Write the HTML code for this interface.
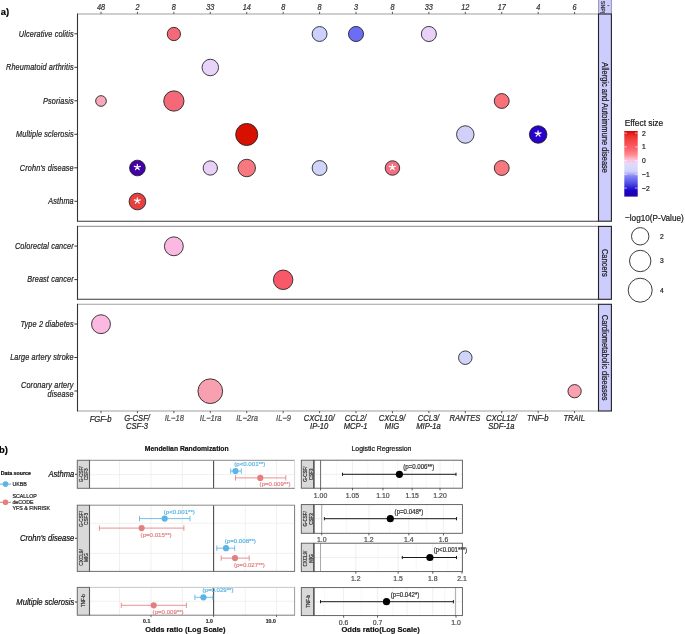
<!DOCTYPE html>
<html><head><meta charset="utf-8"><style>
html,body{margin:0;padding:0;background:#fff;width:685px;height:634px;overflow:hidden;font-family:"Liberation Sans",sans-serif}
svg{display:block}
svg{opacity:0.999;will-change:transform}
</style></head><body>
<svg width="685" height="634" viewBox="0 0 685 634">
<rect width="685" height="634" fill="#fff"/>
<line x1="77.5" y1="14" x2="598.5" y2="14" stroke="#a0a0a0" stroke-width="1.1"/>
<line x1="77.5" y1="221.2" x2="598.5" y2="221.2" stroke="#3a3a3a" stroke-width="1.1"/>
<line x1="77.5" y1="13.5" x2="77.5" y2="221.7" stroke="#333" stroke-width="1.1"/>
<line x1="77.5" y1="226.4" x2="598.5" y2="226.4" stroke="#a0a0a0" stroke-width="1.1"/>
<line x1="77.5" y1="299.3" x2="598.5" y2="299.3" stroke="#3a3a3a" stroke-width="1.1"/>
<line x1="77.5" y1="225.9" x2="77.5" y2="299.8" stroke="#333" stroke-width="1.1"/>
<line x1="77.5" y1="304.3" x2="598.5" y2="304.3" stroke="#a0a0a0" stroke-width="1.1"/>
<line x1="77.5" y1="411" x2="598.5" y2="411" stroke="#a0a0a0" stroke-width="1.1"/>
<line x1="77.5" y1="303.8" x2="77.5" y2="411.5" stroke="#333" stroke-width="1.1"/>
<rect x="598.5" y="-2" width="13" height="16" fill="#ccccff" stroke="none" stroke-width="0"/>
<line x1="598.6" y1="0" x2="598.6" y2="14" stroke="#8a8ab0" stroke-width="0.9"/>
<line x1="611.4" y1="0" x2="611.4" y2="14" stroke="#8a8ab0" stroke-width="0.9"/>
<rect x="598.5" y="14" width="12.9" height="207.2" fill="#ccccff" stroke="#222" stroke-width="1.1"/>
<text x="0" y="0" font-size="7.5" text-anchor="middle" font-style="normal" font-weight="normal" fill="#1a1a1a" font-family="Liberation Sans" transform="translate(602.40 117.60) rotate(90) scale(1 1.17)" stroke="#1a1a1a" stroke-width="0.2">Allergic and Autoimmune disease</text>
<rect x="598.5" y="226.4" width="12.9" height="72.9" fill="#ccccff" stroke="#222" stroke-width="1.1"/>
<text x="0" y="0" font-size="7.5" text-anchor="middle" font-style="normal" font-weight="normal" fill="#1a1a1a" font-family="Liberation Sans" transform="translate(602.40 262.85) rotate(90) scale(1 1.17)" stroke="#1a1a1a" stroke-width="0.2">Cancers</text>
<rect x="598.5" y="304.3" width="12.9" height="106.69999999999999" fill="#ccccff" stroke="#222" stroke-width="1.1"/>
<text x="0" y="0" font-size="7.5" text-anchor="middle" font-style="normal" font-weight="normal" fill="#1a1a1a" font-family="Liberation Sans" transform="translate(602.40 357.65) rotate(90) scale(1 1.17)" stroke="#1a1a1a" stroke-width="0.2">Cardiometabolic diseases</text>
<text x="0" y="0" font-size="5.3" text-anchor="middle" font-style="normal" font-weight="normal" fill="#333" font-family="Liberation Sans" transform="translate(601.20 7.20) rotate(90) scale(1 1.0)" stroke="#333" stroke-width="0.2">SNP(</text>
<line x1="607.4" y1="5.6" x2="609.4" y2="5.6" stroke="#555" stroke-width="0.9"/>
<line x1="101.0" y1="14" x2="101.0" y2="11.8" stroke="#333" stroke-width="0.8"/>
<text x="0" y="0" font-size="7.3" text-anchor="middle" font-style="italic" font-weight="normal" fill="#333" font-family="Liberation Sans" transform="translate(101.00 9.90) scale(1 1.17)" stroke="#333" stroke-width="0.2">48</text>
<line x1="137.43" y1="14" x2="137.43" y2="11.8" stroke="#333" stroke-width="0.8"/>
<text x="0" y="0" font-size="7.3" text-anchor="middle" font-style="italic" font-weight="normal" fill="#333" font-family="Liberation Sans" transform="translate(137.43 9.90) scale(1 1.17)" stroke="#333" stroke-width="0.2">2</text>
<line x1="173.86" y1="14" x2="173.86" y2="11.8" stroke="#333" stroke-width="0.8"/>
<text x="0" y="0" font-size="7.3" text-anchor="middle" font-style="italic" font-weight="normal" fill="#333" font-family="Liberation Sans" transform="translate(173.86 9.90) scale(1 1.17)" stroke="#333" stroke-width="0.2">8</text>
<line x1="210.29" y1="14" x2="210.29" y2="11.8" stroke="#333" stroke-width="0.8"/>
<text x="0" y="0" font-size="7.3" text-anchor="middle" font-style="italic" font-weight="normal" fill="#333" font-family="Liberation Sans" transform="translate(210.29 9.90) scale(1 1.17)" stroke="#333" stroke-width="0.2">33</text>
<line x1="246.72" y1="14" x2="246.72" y2="11.8" stroke="#333" stroke-width="0.8"/>
<text x="0" y="0" font-size="7.3" text-anchor="middle" font-style="italic" font-weight="normal" fill="#333" font-family="Liberation Sans" transform="translate(246.72 9.90) scale(1 1.17)" stroke="#333" stroke-width="0.2">14</text>
<line x1="283.15" y1="14" x2="283.15" y2="11.8" stroke="#333" stroke-width="0.8"/>
<text x="0" y="0" font-size="7.3" text-anchor="middle" font-style="italic" font-weight="normal" fill="#333" font-family="Liberation Sans" transform="translate(283.15 9.90) scale(1 1.17)" stroke="#333" stroke-width="0.2">8</text>
<line x1="319.58" y1="14" x2="319.58" y2="11.8" stroke="#333" stroke-width="0.8"/>
<text x="0" y="0" font-size="7.3" text-anchor="middle" font-style="italic" font-weight="normal" fill="#333" font-family="Liberation Sans" transform="translate(319.58 9.90) scale(1 1.17)" stroke="#333" stroke-width="0.2">8</text>
<line x1="356.01" y1="14" x2="356.01" y2="11.8" stroke="#333" stroke-width="0.8"/>
<text x="0" y="0" font-size="7.3" text-anchor="middle" font-style="italic" font-weight="normal" fill="#333" font-family="Liberation Sans" transform="translate(356.01 9.90) scale(1 1.17)" stroke="#333" stroke-width="0.2">3</text>
<line x1="392.44" y1="14" x2="392.44" y2="11.8" stroke="#333" stroke-width="0.8"/>
<text x="0" y="0" font-size="7.3" text-anchor="middle" font-style="italic" font-weight="normal" fill="#333" font-family="Liberation Sans" transform="translate(392.44 9.90) scale(1 1.17)" stroke="#333" stroke-width="0.2">8</text>
<line x1="428.87" y1="14" x2="428.87" y2="11.8" stroke="#333" stroke-width="0.8"/>
<text x="0" y="0" font-size="7.3" text-anchor="middle" font-style="italic" font-weight="normal" fill="#333" font-family="Liberation Sans" transform="translate(428.87 9.90) scale(1 1.17)" stroke="#333" stroke-width="0.2">33</text>
<line x1="465.3" y1="14" x2="465.3" y2="11.8" stroke="#333" stroke-width="0.8"/>
<text x="0" y="0" font-size="7.3" text-anchor="middle" font-style="italic" font-weight="normal" fill="#333" font-family="Liberation Sans" transform="translate(465.30 9.90) scale(1 1.17)" stroke="#333" stroke-width="0.2">12</text>
<line x1="501.73" y1="14" x2="501.73" y2="11.8" stroke="#333" stroke-width="0.8"/>
<text x="0" y="0" font-size="7.3" text-anchor="middle" font-style="italic" font-weight="normal" fill="#333" font-family="Liberation Sans" transform="translate(501.73 9.90) scale(1 1.17)" stroke="#333" stroke-width="0.2">17</text>
<line x1="538.16" y1="14" x2="538.16" y2="11.8" stroke="#333" stroke-width="0.8"/>
<text x="0" y="0" font-size="7.3" text-anchor="middle" font-style="italic" font-weight="normal" fill="#333" font-family="Liberation Sans" transform="translate(538.16 9.90) scale(1 1.17)" stroke="#333" stroke-width="0.2">4</text>
<line x1="574.5899999999999" y1="14" x2="574.5899999999999" y2="11.8" stroke="#333" stroke-width="0.8"/>
<text x="0" y="0" font-size="7.3" text-anchor="middle" font-style="italic" font-weight="normal" fill="#333" font-family="Liberation Sans" transform="translate(574.59 9.90) scale(1 1.17)" stroke="#333" stroke-width="0.2">6</text>
<line x1="101.0" y1="411" x2="101.0" y2="413.2" stroke="#333" stroke-width="0.8"/>
<text x="0" y="0" font-size="7.6" text-anchor="middle" font-style="italic" font-weight="normal" fill="#262626" font-family="Liberation Sans" transform="translate(100.60 422.00) scale(1 1.17)" stroke="#262626" stroke-width="0.2">FGF-b</text>
<line x1="137.43" y1="411" x2="137.43" y2="413.2" stroke="#333" stroke-width="0.8"/>
<text x="0" y="0" font-size="7.6" text-anchor="middle" font-style="italic" font-weight="normal" fill="#262626" font-family="Liberation Sans" transform="translate(137.03 420.60) scale(1 1.17)" stroke="#262626" stroke-width="0.2">G-CSF/</text>
<text x="0" y="0" font-size="7.6" text-anchor="middle" font-style="italic" font-weight="normal" fill="#262626" font-family="Liberation Sans" transform="translate(137.03 429.40) scale(1 1.17)" stroke="#262626" stroke-width="0.2">CSF-3</text>
<line x1="173.86" y1="411" x2="173.86" y2="413.2" stroke="#333" stroke-width="0.8"/>
<text x="0" y="0" font-size="7.6" text-anchor="middle" font-style="italic" font-weight="normal" fill="#505050" font-family="Liberation Sans" transform="translate(174.26 420.60) scale(1 1.17)" stroke="#505050" stroke-width="0.2">IL−18</text>
<line x1="210.29" y1="411" x2="210.29" y2="413.2" stroke="#333" stroke-width="0.8"/>
<text x="0" y="0" font-size="7.6" text-anchor="middle" font-style="italic" font-weight="normal" fill="#505050" font-family="Liberation Sans" transform="translate(210.69 420.60) scale(1 1.17)" stroke="#505050" stroke-width="0.2">IL−1ra</text>
<line x1="246.72" y1="411" x2="246.72" y2="413.2" stroke="#333" stroke-width="0.8"/>
<text x="0" y="0" font-size="7.6" text-anchor="middle" font-style="italic" font-weight="normal" fill="#505050" font-family="Liberation Sans" transform="translate(247.12 420.60) scale(1 1.17)" stroke="#505050" stroke-width="0.2">IL−2ra</text>
<line x1="283.15" y1="411" x2="283.15" y2="413.2" stroke="#333" stroke-width="0.8"/>
<text x="0" y="0" font-size="7.6" text-anchor="middle" font-style="italic" font-weight="normal" fill="#505050" font-family="Liberation Sans" transform="translate(283.55 420.60) scale(1 1.17)" stroke="#505050" stroke-width="0.2">IL−9</text>
<line x1="319.58" y1="411" x2="319.58" y2="413.2" stroke="#333" stroke-width="0.8"/>
<text x="0" y="0" font-size="7.6" text-anchor="middle" font-style="italic" font-weight="normal" fill="#262626" font-family="Liberation Sans" transform="translate(319.18 420.60) scale(1 1.17)" stroke="#262626" stroke-width="0.2">CXCL10/</text>
<text x="0" y="0" font-size="7.6" text-anchor="middle" font-style="italic" font-weight="normal" fill="#262626" font-family="Liberation Sans" transform="translate(319.18 429.40) scale(1 1.17)" stroke="#262626" stroke-width="0.2">IP-10</text>
<line x1="356.01" y1="411" x2="356.01" y2="413.2" stroke="#333" stroke-width="0.8"/>
<text x="0" y="0" font-size="7.6" text-anchor="middle" font-style="italic" font-weight="normal" fill="#262626" font-family="Liberation Sans" transform="translate(355.61 420.60) scale(1 1.17)" stroke="#262626" stroke-width="0.2">CCL2/</text>
<text x="0" y="0" font-size="7.6" text-anchor="middle" font-style="italic" font-weight="normal" fill="#262626" font-family="Liberation Sans" transform="translate(355.61 429.40) scale(1 1.17)" stroke="#262626" stroke-width="0.2">MCP-1</text>
<line x1="392.44" y1="411" x2="392.44" y2="413.2" stroke="#333" stroke-width="0.8"/>
<text x="0" y="0" font-size="7.6" text-anchor="middle" font-style="italic" font-weight="normal" fill="#262626" font-family="Liberation Sans" transform="translate(392.04 420.60) scale(1 1.17)" stroke="#262626" stroke-width="0.2">CXCL9/</text>
<text x="0" y="0" font-size="7.6" text-anchor="middle" font-style="italic" font-weight="normal" fill="#262626" font-family="Liberation Sans" transform="translate(392.04 429.40) scale(1 1.17)" stroke="#262626" stroke-width="0.2">MIG</text>
<line x1="428.87" y1="411" x2="428.87" y2="413.2" stroke="#333" stroke-width="0.8"/>
<text x="0" y="0" font-size="7.6" text-anchor="middle" font-style="italic" font-weight="normal" fill="#262626" font-family="Liberation Sans" transform="translate(428.47 420.60) scale(1 1.17)" stroke="#262626" stroke-width="0.2">CCL3/</text>
<text x="0" y="0" font-size="7.6" text-anchor="middle" font-style="italic" font-weight="normal" fill="#262626" font-family="Liberation Sans" transform="translate(428.47 429.40) scale(1 1.17)" stroke="#262626" stroke-width="0.2">MIP-1a</text>
<line x1="465.3" y1="411" x2="465.3" y2="413.2" stroke="#333" stroke-width="0.8"/>
<text x="0" y="0" font-size="7.6" text-anchor="middle" font-style="italic" font-weight="normal" fill="#262626" font-family="Liberation Sans" transform="translate(464.90 420.60) scale(1 1.17)" stroke="#262626" stroke-width="0.2">RANTES</text>
<line x1="501.73" y1="411" x2="501.73" y2="413.2" stroke="#333" stroke-width="0.8"/>
<text x="0" y="0" font-size="7.6" text-anchor="middle" font-style="italic" font-weight="normal" fill="#262626" font-family="Liberation Sans" transform="translate(501.33 420.60) scale(1 1.17)" stroke="#262626" stroke-width="0.2">CXCL12/</text>
<text x="0" y="0" font-size="7.6" text-anchor="middle" font-style="italic" font-weight="normal" fill="#262626" font-family="Liberation Sans" transform="translate(501.33 429.40) scale(1 1.17)" stroke="#262626" stroke-width="0.2">SDF-1a</text>
<line x1="538.16" y1="411" x2="538.16" y2="413.2" stroke="#333" stroke-width="0.8"/>
<text x="0" y="0" font-size="7.6" text-anchor="middle" font-style="italic" font-weight="normal" fill="#262626" font-family="Liberation Sans" transform="translate(537.76 420.60) scale(1 1.17)" stroke="#262626" stroke-width="0.2">TNF-b</text>
<line x1="574.5899999999999" y1="411" x2="574.5899999999999" y2="413.2" stroke="#333" stroke-width="0.8"/>
<text x="0" y="0" font-size="7.6" text-anchor="middle" font-style="italic" font-weight="normal" fill="#262626" font-family="Liberation Sans" transform="translate(574.19 420.60) scale(1 1.17)" stroke="#262626" stroke-width="0.2">TRAIL</text>
<line x1="74.4" y1="33.8" x2="77.5" y2="33.8" stroke="#222" stroke-width="0.9"/>
<text x="0" y="0" font-size="7.3" text-anchor="end" font-style="italic" font-weight="normal" fill="#262626" font-family="Liberation Sans" transform="translate(73.80 36.55) scale(1 1.22)" letter-spacing="0.13" stroke="#262626" stroke-width="0.2">Ulcerative colitis</text>
<line x1="74.4" y1="67.3" x2="77.5" y2="67.3" stroke="#222" stroke-width="0.9"/>
<text x="0" y="0" font-size="7.3" text-anchor="end" font-style="italic" font-weight="normal" fill="#262626" font-family="Liberation Sans" transform="translate(73.80 70.05) scale(1 1.22)" letter-spacing="0.13" stroke="#262626" stroke-width="0.2">Rheumatoid arthritis</text>
<line x1="74.4" y1="100.8" x2="77.5" y2="100.8" stroke="#222" stroke-width="0.9"/>
<text x="0" y="0" font-size="7.3" text-anchor="end" font-style="italic" font-weight="normal" fill="#262626" font-family="Liberation Sans" transform="translate(73.80 103.55) scale(1 1.22)" letter-spacing="0.13" stroke="#262626" stroke-width="0.2">Psoriasis</text>
<line x1="74.4" y1="134.3" x2="77.5" y2="134.3" stroke="#222" stroke-width="0.9"/>
<text x="0" y="0" font-size="7.3" text-anchor="end" font-style="italic" font-weight="normal" fill="#262626" font-family="Liberation Sans" transform="translate(73.80 137.05) scale(1 1.22)" letter-spacing="0.13" stroke="#262626" stroke-width="0.2">Multiple sclerosis</text>
<line x1="74.4" y1="167.8" x2="77.5" y2="167.8" stroke="#222" stroke-width="0.9"/>
<text x="0" y="0" font-size="7.3" text-anchor="end" font-style="italic" font-weight="normal" fill="#262626" font-family="Liberation Sans" transform="translate(73.80 170.55) scale(1 1.22)" letter-spacing="0.13" stroke="#262626" stroke-width="0.2">Crohn's disease</text>
<line x1="74.4" y1="201.3" x2="77.5" y2="201.3" stroke="#222" stroke-width="0.9"/>
<text x="0" y="0" font-size="7.3" text-anchor="end" font-style="italic" font-weight="normal" fill="#262626" font-family="Liberation Sans" transform="translate(73.80 204.05) scale(1 1.22)" letter-spacing="0.13" stroke="#262626" stroke-width="0.2">Asthma</text>
<line x1="74.4" y1="246.1" x2="77.5" y2="246.1" stroke="#222" stroke-width="0.9"/>
<text x="0" y="0" font-size="7.3" text-anchor="end" font-style="italic" font-weight="normal" fill="#262626" font-family="Liberation Sans" transform="translate(73.80 248.85) scale(1 1.22)" letter-spacing="0.13" stroke="#262626" stroke-width="0.2">Colorectal cancer</text>
<line x1="74.4" y1="279.6" x2="77.5" y2="279.6" stroke="#222" stroke-width="0.9"/>
<text x="0" y="0" font-size="7.3" text-anchor="end" font-style="italic" font-weight="normal" fill="#262626" font-family="Liberation Sans" transform="translate(73.80 282.35) scale(1 1.22)" letter-spacing="0.13" stroke="#262626" stroke-width="0.2">Breast cancer</text>
<line x1="74.4" y1="324.0" x2="77.5" y2="324.0" stroke="#222" stroke-width="0.9"/>
<text x="0" y="0" font-size="7.3" text-anchor="end" font-style="italic" font-weight="normal" fill="#262626" font-family="Liberation Sans" transform="translate(73.80 326.75) scale(1 1.22)" letter-spacing="0.13" stroke="#262626" stroke-width="0.2">Type 2 diabetes</text>
<line x1="74.4" y1="357.5" x2="77.5" y2="357.5" stroke="#222" stroke-width="0.9"/>
<text x="0" y="0" font-size="7.3" text-anchor="end" font-style="italic" font-weight="normal" fill="#262626" font-family="Liberation Sans" transform="translate(73.80 360.25) scale(1 1.22)" letter-spacing="0.13" stroke="#262626" stroke-width="0.2">Large artery stroke</text>
<line x1="74.4" y1="391.0" x2="77.5" y2="391.0" stroke="#222" stroke-width="0.9"/>
<text x="0" y="0" font-size="7.3" text-anchor="end" font-style="italic" font-weight="normal" fill="#262626" font-family="Liberation Sans" transform="translate(73.60 387.90) scale(1 1.22)" letter-spacing="0.13" stroke="#262626" stroke-width="0.2">Coronary artery</text>
<text x="0" y="0" font-size="7.3" text-anchor="end" font-style="italic" font-weight="normal" fill="#262626" font-family="Liberation Sans" transform="translate(73.60 397.30) scale(1 1.22)" letter-spacing="0.13" stroke="#262626" stroke-width="0.2">disease</text>
<circle cx="173.86" cy="34.0" r="6.65" fill="#f56878" stroke="#1e1e1e" stroke-width="0.85"/>
<circle cx="319.58" cy="34.0" r="7.45" fill="#ccd0ff" stroke="#1e1e1e" stroke-width="0.85"/>
<circle cx="356.01" cy="34.0" r="7.550000000000001" fill="#6c6cf4" stroke="#1e1e1e" stroke-width="0.85"/>
<circle cx="428.87" cy="34.0" r="7.550000000000001" fill="#e8d0f8" stroke="#1e1e1e" stroke-width="0.85"/>
<circle cx="210.29" cy="67.5" r="8.25" fill="#e8d4fa" stroke="#1e1e1e" stroke-width="0.85"/>
<circle cx="101.0" cy="101.0" r="5.3500000000000005" fill="#f8a8b8" stroke="#1e1e1e" stroke-width="0.85"/>
<circle cx="173.86" cy="101.0" r="10.15" fill="#f56878" stroke="#1e1e1e" stroke-width="0.85"/>
<circle cx="501.73" cy="101.0" r="7.45" fill="#f87078" stroke="#1e1e1e" stroke-width="0.85"/>
<circle cx="246.72" cy="134.5" r="11.05" fill="#d81000" stroke="#1e1e1e" stroke-width="0.85"/>
<circle cx="465.3" cy="134.5" r="8.75" fill="#d0d0f8" stroke="#1e1e1e" stroke-width="0.85"/>
<circle cx="538.16" cy="134.5" r="8.75" fill="#2a00c8" stroke="#1e1e1e" stroke-width="0.85"/>
<path d="M538.06,133.60l0,-2.8M538.06,133.60l-3.0,-0.8M538.06,133.60l3.0,-0.8M538.06,133.60l-1.85,2.55M538.06,133.60l1.85,2.55" stroke="#ffffff" stroke-width="1.2" stroke-linecap="round" fill="none"/>
<circle cx="137.43" cy="168.0" r="7.85" fill="#4400aa" stroke="#1e1e1e" stroke-width="0.85"/>
<path d="M137.33,167.10l0,-2.8M137.33,167.10l-3.0,-0.8M137.33,167.10l3.0,-0.8M137.33,167.10l-1.85,2.55M137.33,167.10l1.85,2.55" stroke="#ffffff" stroke-width="1.2" stroke-linecap="round" fill="none"/>
<circle cx="210.29" cy="168.0" r="7.15" fill="#e8d0f8" stroke="#1e1e1e" stroke-width="0.85"/>
<circle cx="246.72" cy="168.0" r="8.75" fill="#f87880" stroke="#1e1e1e" stroke-width="0.85"/>
<circle cx="319.58" cy="168.0" r="7.45" fill="#d0d4fa" stroke="#1e1e1e" stroke-width="0.85"/>
<circle cx="392.44" cy="168.0" r="7.25" fill="#f27080" stroke="#1e1e1e" stroke-width="0.85"/>
<path d="M392.34,167.10l0,-2.8M392.34,167.10l-3.0,-0.8M392.34,167.10l3.0,-0.8M392.34,167.10l-1.85,2.55M392.34,167.10l1.85,2.55" stroke="#ffffff" stroke-width="1.2" stroke-linecap="round" fill="none"/>
<circle cx="501.73" cy="168.0" r="7.45" fill="#f87880" stroke="#1e1e1e" stroke-width="0.85"/>
<circle cx="137.43" cy="201.5" r="8.35" fill="#e84040" stroke="#1e1e1e" stroke-width="0.85"/>
<path d="M137.33,200.60l0,-2.8M137.33,200.60l-3.0,-0.8M137.33,200.60l3.0,-0.8M137.33,200.60l-1.85,2.55M137.33,200.60l1.85,2.55" stroke="#ffffff" stroke-width="1.2" stroke-linecap="round" fill="none"/>
<circle cx="173.86" cy="246.29999999999998" r="9.450000000000001" fill="#fbb8e0" stroke="#1e1e1e" stroke-width="0.85"/>
<circle cx="283.15" cy="279.8" r="9.75" fill="#f85868" stroke="#1e1e1e" stroke-width="0.85"/>
<circle cx="101.0" cy="324.2" r="9.450000000000001" fill="#fbb8e0" stroke="#1e1e1e" stroke-width="0.85"/>
<circle cx="465.3" cy="357.7" r="6.75" fill="#d0d4fa" stroke="#1e1e1e" stroke-width="0.85"/>
<circle cx="210.29" cy="391.2" r="12.35" fill="#f8a0b0" stroke="#1e1e1e" stroke-width="0.85"/>
<circle cx="574.5899999999999" cy="391.2" r="6.65" fill="#fba0b0" stroke="#1e1e1e" stroke-width="0.85"/>
<text x="0" y="0" font-size="8.4" text-anchor="start" font-style="normal" font-weight="normal" fill="#1a1a1a" font-family="Liberation Sans" transform="translate(624.70 126.00) scale(1 1.1)" stroke="#1a1a1a" stroke-width="0.2">Effect size</text>
<defs><linearGradient id="g" x1="0" y1="0" x2="0" y2="1"><stop offset="0.000" stop-color="#d80000"/><stop offset="0.030" stop-color="#e01818"/><stop offset="0.091" stop-color="#ec3636"/><stop offset="0.152" stop-color="#f64646"/><stop offset="0.236" stop-color="#fc5a64"/><stop offset="0.305" stop-color="#fe6e78"/><stop offset="0.366" stop-color="#ff8c94"/><stop offset="0.412" stop-color="#fcb0c0"/><stop offset="0.447" stop-color="#fac4dc"/><stop offset="0.488" stop-color="#ecd4f6"/><stop offset="0.534" stop-color="#dadafc"/><stop offset="0.610" stop-color="#d0d4fc"/><stop offset="0.648" stop-color="#b4b4f8"/><stop offset="0.686" stop-color="#8686f4"/><stop offset="0.747" stop-color="#6868ee"/><stop offset="0.808" stop-color="#4a48e2"/><stop offset="0.869" stop-color="#2c1cd2"/><stop offset="0.915" stop-color="#1a00c8"/><stop offset="0.960" stop-color="#1e00b4"/><stop offset="1.000" stop-color="#2c009c"/></linearGradient></defs>
<rect x="624.3" y="131" width="13.4" height="65.6" fill="url(#g)" stroke="none" stroke-width="1"/>
<line x1="624.3" y1="133.1" x2="627" y2="133.1" stroke="#ffffff" stroke-width="0.6"/>
<line x1="635" y1="133.1" x2="637.7" y2="133.1" stroke="#ffffff" stroke-width="0.6"/>
<text x="0" y="0" font-size="6.7" text-anchor="start" font-style="normal" font-weight="normal" fill="#1a1a1a" font-family="Liberation Sans" transform="translate(642.00 135.50) scale(1 1.17)" stroke="#1a1a1a" stroke-width="0.2">2</text>
<line x1="624.3" y1="146.9" x2="627" y2="146.9" stroke="#ffffff" stroke-width="0.6"/>
<line x1="635" y1="146.9" x2="637.7" y2="146.9" stroke="#ffffff" stroke-width="0.6"/>
<text x="0" y="0" font-size="6.7" text-anchor="start" font-style="normal" font-weight="normal" fill="#1a1a1a" font-family="Liberation Sans" transform="translate(642.00 149.30) scale(1 1.17)" stroke="#1a1a1a" stroke-width="0.2">1</text>
<line x1="624.3" y1="160.6" x2="627" y2="160.6" stroke="#ffffff" stroke-width="0.6"/>
<line x1="635" y1="160.6" x2="637.7" y2="160.6" stroke="#ffffff" stroke-width="0.6"/>
<text x="0" y="0" font-size="6.7" text-anchor="start" font-style="normal" font-weight="normal" fill="#1a1a1a" font-family="Liberation Sans" transform="translate(642.00 163.00) scale(1 1.17)" stroke="#1a1a1a" stroke-width="0.2">0</text>
<line x1="624.3" y1="174.3" x2="627" y2="174.3" stroke="#ffffff" stroke-width="0.6"/>
<line x1="635" y1="174.3" x2="637.7" y2="174.3" stroke="#ffffff" stroke-width="0.6"/>
<text x="0" y="0" font-size="6.7" text-anchor="start" font-style="normal" font-weight="normal" fill="#1a1a1a" font-family="Liberation Sans" transform="translate(642.00 176.70) scale(1 1.17)" stroke="#1a1a1a" stroke-width="0.2">−1</text>
<line x1="624.3" y1="188.1" x2="627" y2="188.1" stroke="#ffffff" stroke-width="0.6"/>
<line x1="635" y1="188.1" x2="637.7" y2="188.1" stroke="#ffffff" stroke-width="0.6"/>
<text x="0" y="0" font-size="6.7" text-anchor="start" font-style="normal" font-weight="normal" fill="#1a1a1a" font-family="Liberation Sans" transform="translate(642.00 190.50) scale(1 1.17)" stroke="#1a1a1a" stroke-width="0.2">−2</text>
<text x="0" y="0" font-size="8.2" text-anchor="start" font-style="normal" font-weight="normal" fill="#1a1a1a" font-family="Liberation Sans" transform="translate(625.00 221.00) scale(1 1.17)" stroke="#1a1a1a" stroke-width="0.2">−log10(P-Value)</text>
<circle cx="640.2" cy="236.3" r="8.7" fill="none" stroke="#262626" stroke-width="0.9"/>
<text x="0" y="0" font-size="6.7" text-anchor="start" font-style="normal" font-weight="normal" fill="#1a1a1a" font-family="Liberation Sans" transform="translate(660.00 238.70) scale(1 1.17)" stroke="#1a1a1a" stroke-width="0.2">2</text>
<circle cx="640.2" cy="261.0" r="10.7" fill="none" stroke="#262626" stroke-width="0.9"/>
<text x="0" y="0" font-size="6.7" text-anchor="start" font-style="normal" font-weight="normal" fill="#1a1a1a" font-family="Liberation Sans" transform="translate(660.00 263.40) scale(1 1.17)" stroke="#1a1a1a" stroke-width="0.2">3</text>
<circle cx="640.2" cy="290.2" r="12.0" fill="none" stroke="#262626" stroke-width="0.9"/>
<text x="0" y="0" font-size="6.7" text-anchor="start" font-style="normal" font-weight="normal" fill="#1a1a1a" font-family="Liberation Sans" transform="translate(660.00 292.60) scale(1 1.17)" stroke="#1a1a1a" stroke-width="0.2">4</text>
<text x="0" y="0" font-size="9.4" text-anchor="start" font-style="normal" font-weight="bold" fill="#000" font-family="Liberation Sans" transform="translate(0.80 14.60) scale(1 1.06)" stroke="#000" stroke-width="0.2">a)</text>
<text x="0" y="0" font-size="9.4" text-anchor="start" font-style="normal" font-weight="bold" fill="#000" font-family="Liberation Sans" transform="translate(-1.10 452.50) scale(1 1.06)" stroke="#000" stroke-width="0.2">b)</text>
<text x="0" y="0" font-size="5.3" text-anchor="start" font-style="normal" font-weight="bold" fill="#111" font-family="Liberation Sans" transform="translate(0.70 474.70) scale(1 1.17)" stroke="#111" stroke-width="0.2">Data source</text>
<line x1="0" y1="484.1" x2="11" y2="484.1" stroke="#5ab4e5" stroke-width="1"/>
<circle cx="5.5" cy="484.1" r="2.8" fill="#5ab4e5" stroke="none" stroke-width="0"/>
<text x="0" y="0" font-size="5.3" text-anchor="start" font-style="normal" font-weight="normal" fill="#222" font-family="Liberation Sans" transform="translate(12.40 486.20) scale(1 1.17)" stroke="#222" stroke-width="0.2">UKBB</text>
<line x1="0" y1="502.3" x2="11" y2="502.3" stroke="#e47f7f" stroke-width="1"/>
<circle cx="5.5" cy="502.3" r="2.8" fill="#e47f7f" stroke="none" stroke-width="0"/>
<text x="0" y="0" font-size="5.3" text-anchor="start" font-style="normal" font-weight="normal" fill="#222" font-family="Liberation Sans" transform="translate(12.40 497.90) scale(1 1.17)" stroke="#222" stroke-width="0.2">SCALLOP</text>
<text x="0" y="0" font-size="5.3" text-anchor="start" font-style="normal" font-weight="normal" fill="#222" font-family="Liberation Sans" transform="translate(12.40 504.10) scale(1 1.17)" stroke="#222" stroke-width="0.2">deCODE</text>
<text x="0" y="0" font-size="5.3" text-anchor="start" font-style="normal" font-weight="normal" fill="#222" font-family="Liberation Sans" transform="translate(12.40 510.40) scale(1 1.17)" stroke="#222" stroke-width="0.2">YFS &amp; FINRISK</text>
<text x="0" y="0" font-size="6.8" text-anchor="middle" font-style="normal" font-weight="bold" fill="#111" font-family="Liberation Sans" transform="translate(186.70 450.90) scale(1 1.17)" stroke="#111" stroke-width="0.2">Mendelian Randomization</text>
<text x="0" y="0" font-size="6.87" text-anchor="middle" font-style="normal" font-weight="normal" fill="#111" font-family="Liberation Sans" transform="translate(381.50 451.30) scale(1 1.17)" stroke="#111" stroke-width="0.2">Logistic Regression</text>
<text x="0" y="0" font-size="7.6" text-anchor="end" font-style="italic" font-weight="normal" fill="#111" font-family="Liberation Sans" transform="translate(74.20 477.10) scale(1 1.17)" stroke="#111" stroke-width="0.2">Asthma</text>
<line x1="75.0" y1="474.3" x2="77.3" y2="474.3" stroke="#222" stroke-width="0.9"/>
<text x="0" y="0" font-size="7.6" text-anchor="end" font-style="italic" font-weight="normal" fill="#111" font-family="Liberation Sans" transform="translate(74.20 541.10) scale(1 1.17)" stroke="#111" stroke-width="0.2">Crohn's disease</text>
<line x1="75.0" y1="538.3" x2="77.3" y2="538.3" stroke="#222" stroke-width="0.9"/>
<text x="0" y="0" font-size="7.6" text-anchor="end" font-style="italic" font-weight="normal" fill="#111" font-family="Liberation Sans" transform="translate(74.20 604.80) scale(1 1.17)" stroke="#111" stroke-width="0.2">Multiple sclerosis</text>
<line x1="75.0" y1="602.0" x2="77.3" y2="602.0" stroke="#222" stroke-width="0.9"/>
<rect x="89.5" y="460.3" width="205.6" height="28.0" fill="#ffffff" stroke="none" stroke-width="1"/>
<rect x="89.5" y="505.2" width="205.6" height="66.19999999999999" fill="#ffffff" stroke="none" stroke-width="1"/>
<rect x="89.5" y="587.4" width="205.6" height="27.800000000000068" fill="#ffffff" stroke="none" stroke-width="1"/>
<line x1="119.5" y1="460.3" x2="119.5" y2="488.3" stroke="#ebebeb" stroke-width="0.7"/>
<line x1="151.0" y1="460.3" x2="151.0" y2="488.3" stroke="#ebebeb" stroke-width="0.7"/>
<line x1="182.4" y1="460.3" x2="182.4" y2="488.3" stroke="#ebebeb" stroke-width="0.7"/>
<line x1="245.3" y1="460.3" x2="245.3" y2="488.3" stroke="#ebebeb" stroke-width="0.7"/>
<line x1="276.5" y1="460.3" x2="276.5" y2="488.3" stroke="#ebebeb" stroke-width="0.7"/>
<line x1="119.5" y1="505.2" x2="119.5" y2="571.4" stroke="#ebebeb" stroke-width="0.7"/>
<line x1="151.0" y1="505.2" x2="151.0" y2="571.4" stroke="#ebebeb" stroke-width="0.7"/>
<line x1="182.4" y1="505.2" x2="182.4" y2="571.4" stroke="#ebebeb" stroke-width="0.7"/>
<line x1="245.3" y1="505.2" x2="245.3" y2="571.4" stroke="#ebebeb" stroke-width="0.7"/>
<line x1="276.5" y1="505.2" x2="276.5" y2="571.4" stroke="#ebebeb" stroke-width="0.7"/>
<line x1="119.5" y1="587.4" x2="119.5" y2="615.2" stroke="#ebebeb" stroke-width="0.7"/>
<line x1="151.0" y1="587.4" x2="151.0" y2="615.2" stroke="#ebebeb" stroke-width="0.7"/>
<line x1="182.4" y1="587.4" x2="182.4" y2="615.2" stroke="#ebebeb" stroke-width="0.7"/>
<line x1="245.3" y1="587.4" x2="245.3" y2="615.2" stroke="#ebebeb" stroke-width="0.7"/>
<line x1="276.5" y1="587.4" x2="276.5" y2="615.2" stroke="#ebebeb" stroke-width="0.7"/>
<line x1="89.5" y1="474.6" x2="295" y2="474.6" stroke="#ebebeb" stroke-width="0.7"/>
<line x1="89.5" y1="523.3" x2="295" y2="523.3" stroke="#ebebeb" stroke-width="0.7"/>
<line x1="89.5" y1="553.4" x2="295" y2="553.4" stroke="#ebebeb" stroke-width="0.7"/>
<line x1="89.5" y1="601.2" x2="295" y2="601.2" stroke="#ebebeb" stroke-width="0.7"/>
<line x1="213.6" y1="460.3" x2="213.6" y2="488.3" stroke="#4d4d4d" stroke-width="1.1"/>
<line x1="89.5" y1="460.3" x2="295.0" y2="460.3" stroke="#8a8a8a" stroke-width="1.0"/>
<line x1="89.5" y1="488.3" x2="295.0" y2="488.3" stroke="#7a7a7a" stroke-width="1.0"/>
<line x1="294.6" y1="460.3" x2="294.6" y2="488.3" stroke="#d8d8d8" stroke-width="1.0"/>
<rect x="77.3" y="460.3" width="12.2" height="28.0" fill="#d9d9d9" stroke="#6a6a6a" stroke-width="1.0"/>
<line x1="89.5" y1="460.3" x2="89.5" y2="488.3" stroke="#5a5a5a" stroke-width="1.1"/>
<line x1="213.6" y1="505.2" x2="213.6" y2="571.4" stroke="#4d4d4d" stroke-width="1.1"/>
<line x1="89.5" y1="505.2" x2="295.0" y2="505.2" stroke="#8a8a8a" stroke-width="1.0"/>
<line x1="89.5" y1="571.4" x2="295.0" y2="571.4" stroke="#6e6e6e" stroke-width="1.0"/>
<line x1="294.6" y1="505.2" x2="294.6" y2="571.4" stroke="#7a7a7a" stroke-width="1.0"/>
<rect x="77.3" y="505.2" width="12.2" height="66.19999999999999" fill="#d9d9d9" stroke="#6a6a6a" stroke-width="1.0"/>
<line x1="89.5" y1="505.2" x2="89.5" y2="571.4" stroke="#5a5a5a" stroke-width="1.1"/>
<line x1="213.6" y1="587.4" x2="213.6" y2="615.2" stroke="#4d4d4d" stroke-width="1.1"/>
<line x1="89.5" y1="587.4" x2="295.0" y2="587.4" stroke="#c8c8c8" stroke-width="1.0"/>
<line x1="89.5" y1="615.2" x2="295.0" y2="615.2" stroke="#7a7a7a" stroke-width="1.0"/>
<line x1="294.6" y1="587.4" x2="294.6" y2="615.2" stroke="#9a9a9a" stroke-width="1.0"/>
<rect x="77.3" y="587.4" width="12.2" height="27.800000000000068" fill="#d9d9d9" stroke="#6a6a6a" stroke-width="1.0"/>
<line x1="89.5" y1="587.4" x2="89.5" y2="615.2" stroke="#5a5a5a" stroke-width="1.1"/>
<text x="0" y="0" font-size="4.7" text-anchor="middle" font-style="normal" font-weight="normal" fill="#333" font-family="Liberation Sans" transform="translate(82.60 474.30) rotate(-90) scale(1 1.0)" stroke="#333" stroke-width="0.2">G-CSF/</text>
<text x="0" y="0" font-size="4.7" text-anchor="middle" font-style="normal" font-weight="normal" fill="#333" font-family="Liberation Sans" transform="translate(88.20 474.30) rotate(-90) scale(1 1.0)" stroke="#333" stroke-width="0.2">CSF3</text>
<text x="0" y="0" font-size="4.7" text-anchor="middle" font-style="normal" font-weight="normal" fill="#333" font-family="Liberation Sans" transform="translate(82.60 519.00) rotate(-90) scale(1 1.0)" stroke="#333" stroke-width="0.2">G-CSF/</text>
<text x="0" y="0" font-size="4.7" text-anchor="middle" font-style="normal" font-weight="normal" fill="#333" font-family="Liberation Sans" transform="translate(88.20 519.00) rotate(-90) scale(1 1.0)" stroke="#333" stroke-width="0.2">CSF3</text>
<text x="0" y="0" font-size="4.7" text-anchor="middle" font-style="normal" font-weight="normal" fill="#333" font-family="Liberation Sans" transform="translate(82.60 557.50) rotate(-90) scale(1 1.0)" stroke="#333" stroke-width="0.2">CXCL9/</text>
<text x="0" y="0" font-size="4.7" text-anchor="middle" font-style="normal" font-weight="normal" fill="#333" font-family="Liberation Sans" transform="translate(88.20 557.50) rotate(-90) scale(1 1.0)" stroke="#333" stroke-width="0.2">MIG</text>
<text x="0" y="0" font-size="4.5" text-anchor="middle" font-style="normal" font-weight="normal" fill="#333" font-family="Liberation Sans" transform="translate(85.40 600.50) rotate(-90) scale(1 1.0)" stroke="#333" stroke-width="0.2">TNF-b</text>
<line x1="230.7" y1="471.1" x2="241.3" y2="471.1" stroke="#5ab4e5" stroke-width="0.85"/>
<line x1="230.7" y1="468.40000000000003" x2="230.7" y2="473.8" stroke="#5ab4e5" stroke-width="0.85"/>
<line x1="241.3" y1="468.40000000000003" x2="241.3" y2="473.8" stroke="#5ab4e5" stroke-width="0.85"/>
<circle cx="235.5" cy="471.1" r="3.1" fill="#5ab4e5" stroke="none" stroke-width="0"/>
<text x="0" y="0" font-size="6.1" text-anchor="start" font-style="normal" font-weight="normal" fill="#5ab4e5" font-family="Liberation Sans" transform="translate(234.30 466.20) scale(1 1.0)" stroke="#5ab4e5" stroke-width="0.2">(p&lt;0.001**)</text>
<line x1="235.5" y1="477.9" x2="285.8" y2="477.9" stroke="#e47f7f" stroke-width="0.85"/>
<line x1="235.5" y1="475.2" x2="235.5" y2="480.59999999999997" stroke="#e47f7f" stroke-width="0.85"/>
<line x1="285.8" y1="475.2" x2="285.8" y2="480.59999999999997" stroke="#e47f7f" stroke-width="0.85"/>
<circle cx="260.3" cy="477.9" r="3.1" fill="#e47f7f" stroke="none" stroke-width="0"/>
<text x="0" y="0" font-size="6.1" text-anchor="start" font-style="normal" font-weight="normal" fill="#e47f7f" font-family="Liberation Sans" transform="translate(259.60 486.40) scale(1 1.0)" stroke="#e47f7f" stroke-width="0.2">(p=0.009**)</text>
<line x1="139.5" y1="518.6" x2="190.0" y2="518.6" stroke="#5ab4e5" stroke-width="0.85"/>
<line x1="139.5" y1="515.9" x2="139.5" y2="521.3000000000001" stroke="#5ab4e5" stroke-width="0.85"/>
<line x1="190.0" y1="515.9" x2="190.0" y2="521.3000000000001" stroke="#5ab4e5" stroke-width="0.85"/>
<circle cx="164.7" cy="518.6" r="3.1" fill="#5ab4e5" stroke="none" stroke-width="0"/>
<text x="0" y="0" font-size="6.1" text-anchor="start" font-style="normal" font-weight="normal" fill="#5ab4e5" font-family="Liberation Sans" transform="translate(163.80 514.00) scale(1 1.0)" stroke="#5ab4e5" stroke-width="0.2">(p&lt;0.001**)</text>
<line x1="99.4" y1="528.1" x2="183.9" y2="528.1" stroke="#e47f7f" stroke-width="0.85"/>
<line x1="99.4" y1="525.4" x2="99.4" y2="530.8000000000001" stroke="#e47f7f" stroke-width="0.85"/>
<line x1="183.9" y1="525.4" x2="183.9" y2="530.8000000000001" stroke="#e47f7f" stroke-width="0.85"/>
<circle cx="141.6" cy="528.1" r="3.1" fill="#e47f7f" stroke="none" stroke-width="0"/>
<text x="0" y="0" font-size="6.1" text-anchor="start" font-style="normal" font-weight="normal" fill="#e47f7f" font-family="Liberation Sans" transform="translate(140.60 537.30) scale(1 1.0)" stroke="#e47f7f" stroke-width="0.2">(p=0.015**)</text>
<line x1="216.8" y1="548.2" x2="234.7" y2="548.2" stroke="#5ab4e5" stroke-width="0.85"/>
<line x1="216.8" y1="545.5" x2="216.8" y2="550.9000000000001" stroke="#5ab4e5" stroke-width="0.85"/>
<line x1="234.7" y1="545.5" x2="234.7" y2="550.9000000000001" stroke="#5ab4e5" stroke-width="0.85"/>
<circle cx="226.0" cy="548.2" r="3.1" fill="#5ab4e5" stroke="none" stroke-width="0"/>
<text x="0" y="0" font-size="6.1" text-anchor="start" font-style="normal" font-weight="normal" fill="#5ab4e5" font-family="Liberation Sans" transform="translate(224.80 543.10) scale(1 1.0)" stroke="#5ab4e5" stroke-width="0.2">(p=0.008**)</text>
<line x1="221.2" y1="558.1" x2="249.2" y2="558.1" stroke="#e47f7f" stroke-width="0.85"/>
<line x1="221.2" y1="555.4" x2="221.2" y2="560.8000000000001" stroke="#e47f7f" stroke-width="0.85"/>
<line x1="249.2" y1="555.4" x2="249.2" y2="560.8000000000001" stroke="#e47f7f" stroke-width="0.85"/>
<circle cx="235.0" cy="558.1" r="3.1" fill="#e47f7f" stroke="none" stroke-width="0"/>
<text x="0" y="0" font-size="6.1" text-anchor="start" font-style="normal" font-weight="normal" fill="#e47f7f" font-family="Liberation Sans" transform="translate(233.90 566.70) scale(1 1.0)" stroke="#e47f7f" stroke-width="0.2">(p=0.027**)</text>
<line x1="194.9" y1="597.3" x2="212.9" y2="597.3" stroke="#5ab4e5" stroke-width="0.85"/>
<line x1="194.9" y1="594.5999999999999" x2="194.9" y2="600.0" stroke="#5ab4e5" stroke-width="0.85"/>
<line x1="212.9" y1="594.5999999999999" x2="212.9" y2="600.0" stroke="#5ab4e5" stroke-width="0.85"/>
<circle cx="203.4" cy="597.3" r="3.1" fill="#5ab4e5" stroke="none" stroke-width="0"/>
<text x="0" y="0" font-size="6.1" text-anchor="start" font-style="normal" font-weight="normal" fill="#5ab4e5" font-family="Liberation Sans" transform="translate(202.50 591.90) scale(1 1.0)" stroke="#5ab4e5" stroke-width="0.2">(p=0.029**)</text>
<line x1="121.3" y1="605.3" x2="186.4" y2="605.3" stroke="#e47f7f" stroke-width="0.85"/>
<line x1="121.3" y1="602.5999999999999" x2="121.3" y2="608.0" stroke="#e47f7f" stroke-width="0.85"/>
<line x1="186.4" y1="602.5999999999999" x2="186.4" y2="608.0" stroke="#e47f7f" stroke-width="0.85"/>
<circle cx="153.7" cy="605.3" r="3.1" fill="#e47f7f" stroke="none" stroke-width="0"/>
<text x="0" y="0" font-size="6.1" text-anchor="start" font-style="normal" font-weight="normal" fill="#e47f7f" font-family="Liberation Sans" transform="translate(152.60 613.80) scale(1 1.0)" stroke="#e47f7f" stroke-width="0.2">(p=0.009**)</text>
<line x1="151.0" y1="615.2" x2="151.0" y2="617.2" stroke="#333" stroke-width="0.7"/>
<text x="0" y="0" font-size="5.2" text-anchor="end" font-style="normal" font-weight="bold" fill="#333" font-family="Liberation Sans" transform="translate(150.30 623.10) scale(1 1.17)" stroke="#333" stroke-width="0.2">0.1</text>
<line x1="213.6" y1="615.2" x2="213.6" y2="617.2" stroke="#333" stroke-width="0.7"/>
<text x="0" y="0" font-size="5.2" text-anchor="end" font-style="normal" font-weight="bold" fill="#333" font-family="Liberation Sans" transform="translate(212.90 623.10) scale(1 1.17)" stroke="#333" stroke-width="0.2">1.0</text>
<line x1="276.5" y1="615.2" x2="276.5" y2="617.2" stroke="#333" stroke-width="0.7"/>
<text x="0" y="0" font-size="5.2" text-anchor="end" font-style="normal" font-weight="bold" fill="#333" font-family="Liberation Sans" transform="translate(275.80 623.10) scale(1 1.17)" stroke="#333" stroke-width="0.2">10.0</text>
<text x="0" y="0" font-size="7.55" text-anchor="start" font-style="normal" font-weight="bold" fill="#111" font-family="Liberation Sans" transform="translate(145.20 632.30) scale(1 1.02)" stroke="#111" stroke-width="0.2">Odds ratio (Log Scale)</text>
<rect x="314.0" y="460.2" width="148.4" height="28.0" fill="#ffffff" stroke="none" stroke-width="1"/>
<rect x="314.0" y="504.6" width="148.4" height="28.699999999999932" fill="#ffffff" stroke="none" stroke-width="1"/>
<rect x="314.0" y="543.2" width="148.4" height="28.399999999999977" fill="#ffffff" stroke="none" stroke-width="1"/>
<rect x="314.0" y="587.6" width="148.4" height="28.0" fill="#ffffff" stroke="none" stroke-width="1"/>
<line x1="336.6860075529885" y1="460.2" x2="336.6860075529885" y2="488.2" stroke="#f2f2f2" stroke-width="0.6"/>
<line x1="367.9061936654449" y1="460.2" x2="367.9061936654449" y2="488.2" stroke="#f2f2f2" stroke-width="0.6"/>
<line x1="397.70677987275934" y1="460.2" x2="397.70677987275934" y2="488.2" stroke="#f2f2f2" stroke-width="0.6"/>
<line x1="426.2112707492582" y1="460.2" x2="426.2112707492582" y2="488.2" stroke="#f2f2f2" stroke-width="0.6"/>
<line x1="453.52772323983055" y1="460.2" x2="453.52772323983055" y2="488.2" stroke="#f2f2f2" stroke-width="0.6"/>
<line x1="320.5" y1="460.2" x2="320.5" y2="488.2" stroke="#ebebeb" stroke-width="0.8"/>
<line x1="352.48195261306273" y1="460.2" x2="352.48195261306273" y2="488.2" stroke="#ebebeb" stroke-width="0.8"/>
<line x1="382.97582286173497" y1="460.2" x2="382.97582286173497" y2="488.2" stroke="#ebebeb" stroke-width="0.8"/>
<line x1="412.11395322691646" y1="460.2" x2="412.11395322691646" y2="488.2" stroke="#ebebeb" stroke-width="0.8"/>
<line x1="440.01178047843723" y1="460.2" x2="440.01178047843723" y2="488.2" stroke="#ebebeb" stroke-width="0.8"/>
<line x1="314" y1="474.3" x2="462.4" y2="474.3" stroke="#ebebeb" stroke-width="0.8"/>
<line x1="346.38533656932015" y1="504.6" x2="346.38533656932015" y2="533.3" stroke="#f2f2f2" stroke-width="0.6"/>
<line x1="389.6523444970802" y1="504.6" x2="389.6523444970802" y2="533.3" stroke="#f2f2f2" stroke-width="0.6"/>
<line x1="426.71546300001455" y1="504.6" x2="426.71546300001455" y2="533.3" stroke="#f2f2f2" stroke-width="0.6"/>
<line x1="321.7" y1="504.6" x2="321.7" y2="533.3" stroke="#ebebeb" stroke-width="0.8"/>
<line x1="368.9212832096342" y1="504.6" x2="368.9212832096342" y2="533.3" stroke="#ebebeb" stroke-width="0.8"/>
<line x1="408.8463092848941" y1="504.6" x2="408.8463092848941" y2="533.3" stroke="#ebebeb" stroke-width="0.8"/>
<line x1="443.4309399746455" y1="504.6" x2="443.4309399746455" y2="533.3" stroke="#ebebeb" stroke-width="0.8"/>
<line x1="314" y1="518.7" x2="462.4" y2="518.7" stroke="#ebebeb" stroke-width="0.8"/>
<line x1="378.15985164707416" y1="543.2" x2="378.15985164707416" y2="571.6" stroke="#f2f2f2" stroke-width="0.6"/>
<line x1="416.24714964579044" y1="543.2" x2="416.24714964579044" y2="571.6" stroke="#f2f2f2" stroke-width="0.6"/>
<line x1="447.9540149148594" y1="543.2" x2="447.9540149148594" y2="571.6" stroke="#f2f2f2" stroke-width="0.6"/>
<line x1="355.80463147949257" y1="543.2" x2="355.80463147949257" y2="571.6" stroke="#ebebeb" stroke-width="0.8"/>
<line x1="398.1572775189296" y1="543.2" x2="398.1572775189296" y2="571.6" stroke="#ebebeb" stroke-width="0.8"/>
<line x1="432.7619089984222" y1="543.2" x2="432.7619089984222" y2="571.6" stroke="#ebebeb" stroke-width="0.8"/>
<line x1="462.0197080296358" y1="543.2" x2="462.0197080296358" y2="571.6" stroke="#ebebeb" stroke-width="0.8"/>
<line x1="314" y1="557.5" x2="462.4" y2="557.5" stroke="#ebebeb" stroke-width="0.8"/>
<line x1="324.4758598337635" y1="587.6" x2="324.4758598337635" y2="615.6" stroke="#f2f2f2" stroke-width="0.6"/>
<line x1="361.2277584596601" y1="587.6" x2="361.2277584596601" y2="615.6" stroke="#f2f2f2" stroke-width="0.6"/>
<line x1="392.7099440606082" y1="587.6" x2="392.7099440606082" y2="615.6" stroke="#f2f2f2" stroke-width="0.6"/>
<line x1="420.24583551048954" y1="587.6" x2="420.24583551048954" y2="615.6" stroke="#f2f2f2" stroke-width="0.6"/>
<line x1="444.71547523473885" y1="587.6" x2="444.71547523473885" y2="615.6" stroke="#f2f2f2" stroke-width="0.6"/>
<line x1="343.61836277148205" y1="587.6" x2="343.61836277148205" y2="615.6" stroke="#ebebeb" stroke-width="0.8"/>
<line x1="377.5315123334789" y1="587.6" x2="377.5315123334789" y2="615.6" stroke="#ebebeb" stroke-width="0.8"/>
<line x1="406.9084187108739" y1="587.6" x2="406.9084187108739" y2="615.6" stroke="#ebebeb" stroke-width="0.8"/>
<line x1="432.8206865552782" y1="587.6" x2="432.8206865552782" y2="615.6" stroke="#ebebeb" stroke-width="0.8"/>
<line x1="456.0" y1="587.6" x2="456.0" y2="615.6" stroke="#ebebeb" stroke-width="0.8"/>
<line x1="314" y1="601.7" x2="462.4" y2="601.7" stroke="#ebebeb" stroke-width="0.8"/>
<line x1="320.6" y1="460.2" x2="320.6" y2="488.2" stroke="#6a6a6a" stroke-width="1.0"/>
<line x1="321.7" y1="504.6" x2="321.7" y2="533.3" stroke="#aaaaaa" stroke-width="1.0"/>
<line x1="320.5" y1="543.2" x2="320.5" y2="571.6" stroke="#aaaaaa" stroke-width="1.0"/>
<line x1="455.4" y1="587.6" x2="455.4" y2="615.6" stroke="#aaaaaa" stroke-width="1.0"/>
<rect x="314.0" y="460.2" width="148.4" height="28.0" fill="none" stroke="#555" stroke-width="0.9"/>
<rect x="301.3" y="460.2" width="12.4" height="28.0" fill="#d9d9d9" stroke="#555" stroke-width="0.9"/>
<line x1="313.8" y1="460.2" x2="313.8" y2="488.2" stroke="#555" stroke-width="1.0"/>
<rect x="314.0" y="504.6" width="148.4" height="28.699999999999932" fill="none" stroke="#555" stroke-width="0.9"/>
<rect x="301.3" y="504.6" width="12.4" height="28.699999999999932" fill="#d9d9d9" stroke="#555" stroke-width="0.9"/>
<line x1="313.8" y1="504.6" x2="313.8" y2="533.3" stroke="#555" stroke-width="1.0"/>
<rect x="314.0" y="543.2" width="148.4" height="28.399999999999977" fill="none" stroke="#555" stroke-width="0.9"/>
<rect x="301.3" y="543.2" width="12.4" height="28.399999999999977" fill="#d9d9d9" stroke="#555" stroke-width="0.9"/>
<line x1="313.8" y1="543.2" x2="313.8" y2="571.6" stroke="#555" stroke-width="1.0"/>
<rect x="314.0" y="587.6" width="148.4" height="28.0" fill="none" stroke="#555" stroke-width="0.9"/>
<rect x="301.3" y="587.6" width="12.4" height="28.0" fill="#d9d9d9" stroke="#555" stroke-width="0.9"/>
<line x1="313.8" y1="587.6" x2="313.8" y2="615.6" stroke="#555" stroke-width="1.0"/>
<text x="0" y="0" font-size="4.5" text-anchor="middle" font-style="normal" font-weight="normal" fill="#333" font-family="Liberation Sans" transform="translate(306.85 474.20) rotate(-90) scale(1 1.0)" stroke="#333" stroke-width="0.2">G-CSF/</text>
<text x="0" y="0" font-size="4.5" text-anchor="middle" font-style="normal" font-weight="normal" fill="#333" font-family="Liberation Sans" transform="translate(312.55 474.20) rotate(-90) scale(1 1.0)" stroke="#333" stroke-width="0.2">CSF3</text>
<text x="0" y="0" font-size="4.5" text-anchor="middle" font-style="normal" font-weight="normal" fill="#333" font-family="Liberation Sans" transform="translate(306.85 518.90) rotate(-90) scale(1 1.0)" stroke="#333" stroke-width="0.2">G-CSF/</text>
<text x="0" y="0" font-size="4.5" text-anchor="middle" font-style="normal" font-weight="normal" fill="#333" font-family="Liberation Sans" transform="translate(312.55 518.90) rotate(-90) scale(1 1.0)" stroke="#333" stroke-width="0.2">CSF3</text>
<text x="0" y="0" font-size="4.5" text-anchor="middle" font-style="normal" font-weight="normal" fill="#333" font-family="Liberation Sans" transform="translate(306.85 558.60) rotate(-90) scale(1 1.0)" stroke="#333" stroke-width="0.2">CXCL9/</text>
<text x="0" y="0" font-size="4.5" text-anchor="middle" font-style="normal" font-weight="normal" fill="#333" font-family="Liberation Sans" transform="translate(312.55 558.60) rotate(-90) scale(1 1.0)" stroke="#333" stroke-width="0.2">MIG</text>
<text x="0" y="0" font-size="4.5" text-anchor="middle" font-style="normal" font-weight="normal" fill="#333" font-family="Liberation Sans" transform="translate(309.70 601.40) rotate(-90) scale(1 1.0)" stroke="#333" stroke-width="0.2">TNF-b</text>
<line x1="342.5" y1="474.3" x2="456.0" y2="474.3" stroke="#1a1a1a" stroke-width="1.0"/>
<line x1="342.5" y1="472.7" x2="342.5" y2="475.90000000000003" stroke="#1a1a1a" stroke-width="1.0"/>
<line x1="456.0" y1="472.7" x2="456.0" y2="475.90000000000003" stroke="#1a1a1a" stroke-width="1.0"/>
<circle cx="399.4" cy="474.3" r="3.6" fill="#000" stroke="none" stroke-width="0"/>
<text x="0" y="0" font-size="6.1" text-anchor="start" font-style="normal" font-weight="normal" fill="#333" font-family="Liberation Sans" transform="translate(403.20 469.00) scale(1 1.17)" stroke="#333" stroke-width="0.2">(p=0.006**)</text>
<line x1="324.4" y1="518.7" x2="456.5" y2="518.7" stroke="#1a1a1a" stroke-width="1.0"/>
<line x1="324.4" y1="517.1" x2="324.4" y2="520.3000000000001" stroke="#1a1a1a" stroke-width="1.0"/>
<line x1="456.5" y1="517.1" x2="456.5" y2="520.3000000000001" stroke="#1a1a1a" stroke-width="1.0"/>
<circle cx="390.3" cy="518.7" r="3.6" fill="#000" stroke="none" stroke-width="0"/>
<text x="0" y="0" font-size="6.1" text-anchor="start" font-style="normal" font-weight="normal" fill="#333" font-family="Liberation Sans" transform="translate(394.60 513.60) scale(1 1.17)" stroke="#333" stroke-width="0.2">(p=0.048*)</text>
<line x1="402.3" y1="557.5" x2="456.5" y2="557.5" stroke="#1a1a1a" stroke-width="1.0"/>
<line x1="402.3" y1="555.9" x2="402.3" y2="559.1" stroke="#1a1a1a" stroke-width="1.0"/>
<line x1="456.5" y1="555.9" x2="456.5" y2="559.1" stroke="#1a1a1a" stroke-width="1.0"/>
<circle cx="429.9" cy="557.5" r="3.6" fill="#000" stroke="none" stroke-width="0"/>
<text x="0" y="0" font-size="6.1" text-anchor="start" font-style="normal" font-weight="normal" fill="#333" font-family="Liberation Sans" transform="translate(433.70 552.40) scale(1 1.17)" stroke="#333" stroke-width="0.2">(p&lt;0.001***)</text>
<line x1="320.5" y1="601.7" x2="453.4" y2="601.7" stroke="#1a1a1a" stroke-width="1.0"/>
<line x1="320.5" y1="600.1" x2="320.5" y2="603.3000000000001" stroke="#1a1a1a" stroke-width="1.0"/>
<line x1="453.4" y1="600.1" x2="453.4" y2="603.3000000000001" stroke="#1a1a1a" stroke-width="1.0"/>
<circle cx="386.5" cy="601.7" r="3.6" fill="#000" stroke="none" stroke-width="0"/>
<text x="0" y="0" font-size="6.1" text-anchor="start" font-style="normal" font-weight="normal" fill="#333" font-family="Liberation Sans" transform="translate(390.80 596.90) scale(1 1.17)" stroke="#333" stroke-width="0.2">(p=0.042*)</text>
<text x="0" y="0" font-size="6.9" text-anchor="middle" font-style="normal" font-weight="normal" fill="#4d4d4d" font-family="Liberation Sans" transform="translate(320.50 497.90) scale(1 1.17)" stroke="#4d4d4d" stroke-width="0.2">1.00</text>
<line x1="320.5" y1="488.2" x2="320.5" y2="490.3" stroke="#333" stroke-width="0.8"/>
<text x="0" y="0" font-size="6.9" text-anchor="middle" font-style="normal" font-weight="normal" fill="#4d4d4d" font-family="Liberation Sans" transform="translate(352.48 497.90) scale(1 1.17)" stroke="#4d4d4d" stroke-width="0.2">1.05</text>
<line x1="352.48195261306273" y1="488.2" x2="352.48195261306273" y2="490.3" stroke="#333" stroke-width="0.8"/>
<text x="0" y="0" font-size="6.9" text-anchor="middle" font-style="normal" font-weight="normal" fill="#4d4d4d" font-family="Liberation Sans" transform="translate(382.98 497.90) scale(1 1.17)" stroke="#4d4d4d" stroke-width="0.2">1.10</text>
<line x1="382.97582286173497" y1="488.2" x2="382.97582286173497" y2="490.3" stroke="#333" stroke-width="0.8"/>
<text x="0" y="0" font-size="6.9" text-anchor="middle" font-style="normal" font-weight="normal" fill="#4d4d4d" font-family="Liberation Sans" transform="translate(412.11 497.90) scale(1 1.17)" stroke="#4d4d4d" stroke-width="0.2">1.15</text>
<line x1="412.11395322691646" y1="488.2" x2="412.11395322691646" y2="490.3" stroke="#333" stroke-width="0.8"/>
<text x="0" y="0" font-size="6.9" text-anchor="middle" font-style="normal" font-weight="normal" fill="#4d4d4d" font-family="Liberation Sans" transform="translate(440.01 497.90) scale(1 1.17)" stroke="#4d4d4d" stroke-width="0.2">1.20</text>
<line x1="440.01178047843723" y1="488.2" x2="440.01178047843723" y2="490.3" stroke="#333" stroke-width="0.8"/>
<text x="0" y="0" font-size="6.9" text-anchor="middle" font-style="normal" font-weight="normal" fill="#4d4d4d" font-family="Liberation Sans" transform="translate(321.70 541.90) scale(1 1.17)" stroke="#4d4d4d" stroke-width="0.2">1.0</text>
<line x1="321.7" y1="533.3" x2="321.7" y2="535.4" stroke="#333" stroke-width="0.8"/>
<text x="0" y="0" font-size="6.9" text-anchor="middle" font-style="normal" font-weight="normal" fill="#4d4d4d" font-family="Liberation Sans" transform="translate(368.92 541.90) scale(1 1.17)" stroke="#4d4d4d" stroke-width="0.2">1.2</text>
<line x1="368.9212832096342" y1="533.3" x2="368.9212832096342" y2="535.4" stroke="#333" stroke-width="0.8"/>
<text x="0" y="0" font-size="6.9" text-anchor="middle" font-style="normal" font-weight="normal" fill="#4d4d4d" font-family="Liberation Sans" transform="translate(408.85 541.90) scale(1 1.17)" stroke="#4d4d4d" stroke-width="0.2">1.4</text>
<line x1="408.8463092848941" y1="533.3" x2="408.8463092848941" y2="535.4" stroke="#333" stroke-width="0.8"/>
<text x="0" y="0" font-size="6.9" text-anchor="middle" font-style="normal" font-weight="normal" fill="#4d4d4d" font-family="Liberation Sans" transform="translate(443.43 541.90) scale(1 1.17)" stroke="#4d4d4d" stroke-width="0.2">1.6</text>
<line x1="443.4309399746455" y1="533.3" x2="443.4309399746455" y2="535.4" stroke="#333" stroke-width="0.8"/>
<text x="0" y="0" font-size="6.9" text-anchor="middle" font-style="normal" font-weight="normal" fill="#4d4d4d" font-family="Liberation Sans" transform="translate(355.80 580.60) scale(1 1.17)" stroke="#4d4d4d" stroke-width="0.2">1.2</text>
<line x1="355.80463147949257" y1="571.6" x2="355.80463147949257" y2="573.7" stroke="#333" stroke-width="0.8"/>
<text x="0" y="0" font-size="6.9" text-anchor="middle" font-style="normal" font-weight="normal" fill="#4d4d4d" font-family="Liberation Sans" transform="translate(398.16 580.60) scale(1 1.17)" stroke="#4d4d4d" stroke-width="0.2">1.5</text>
<line x1="398.1572775189296" y1="571.6" x2="398.1572775189296" y2="573.7" stroke="#333" stroke-width="0.8"/>
<text x="0" y="0" font-size="6.9" text-anchor="middle" font-style="normal" font-weight="normal" fill="#4d4d4d" font-family="Liberation Sans" transform="translate(432.76 580.60) scale(1 1.17)" stroke="#4d4d4d" stroke-width="0.2">1.8</text>
<line x1="432.7619089984222" y1="571.6" x2="432.7619089984222" y2="573.7" stroke="#333" stroke-width="0.8"/>
<text x="0" y="0" font-size="6.9" text-anchor="middle" font-style="normal" font-weight="normal" fill="#4d4d4d" font-family="Liberation Sans" transform="translate(462.02 580.60) scale(1 1.17)" stroke="#4d4d4d" stroke-width="0.2">2.1</text>
<line x1="462.0197080296358" y1="571.6" x2="462.0197080296358" y2="573.7" stroke="#333" stroke-width="0.8"/>
<text x="0" y="0" font-size="6.9" text-anchor="middle" font-style="normal" font-weight="normal" fill="#4d4d4d" font-family="Liberation Sans" transform="translate(343.62 625.30) scale(1 1.17)" stroke="#4d4d4d" stroke-width="0.2">0.6</text>
<line x1="343.61836277148205" y1="615.6" x2="343.61836277148205" y2="617.7" stroke="#333" stroke-width="0.8"/>
<text x="0" y="0" font-size="6.9" text-anchor="middle" font-style="normal" font-weight="normal" fill="#4d4d4d" font-family="Liberation Sans" transform="translate(377.53 625.30) scale(1 1.17)" stroke="#4d4d4d" stroke-width="0.2">0.7</text>
<line x1="377.5315123334789" y1="615.6" x2="377.5315123334789" y2="617.7" stroke="#333" stroke-width="0.8"/>
<text x="0" y="0" font-size="6.9" text-anchor="middle" font-style="normal" font-weight="normal" fill="#4d4d4d" font-family="Liberation Sans" transform="translate(456.00 625.30) scale(1 1.17)" stroke="#4d4d4d" stroke-width="0.2">1.0</text>
<line x1="456.0" y1="615.6" x2="456.0" y2="617.7" stroke="#333" stroke-width="0.8"/>
<text x="0" y="0" font-size="7.55" text-anchor="middle" font-style="normal" font-weight="bold" fill="#111" font-family="Liberation Sans" transform="translate(380.60 632.40) scale(1 1.02)" stroke="#111" stroke-width="0.2">Odds ratio(Log Scale)</text>
</svg>
</body></html>
